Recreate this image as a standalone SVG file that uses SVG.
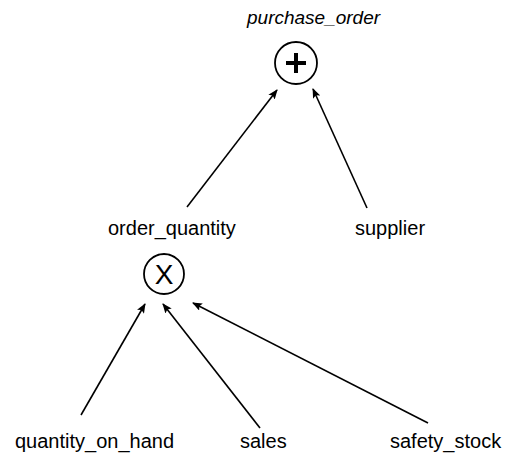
<svg xmlns="http://www.w3.org/2000/svg" width="518" height="454" viewBox="0 0 518 454">
<style>
text{font-family:"Liberation Sans",Arial,sans-serif;font-size:20px;fill:#000}
.t{font-style:italic;font-size:19px}
.c{fill:none;stroke:#000;stroke-width:1.8}
.e{stroke:#000;stroke-width:1.6;fill:none;marker-end:url(#a)}
</style>
<defs>
<marker id="a" viewBox="0 0 10 8" refX="9" refY="4" markerWidth="10" markerHeight="8" markerUnits="userSpaceOnUse" orient="auto">
<path d="M0,0L10,4L0,8L2,4Z" fill="#000"/>
</marker>
</defs>
<rect width="518" height="454" fill="#fff"/>
<g id="connectors">
<line class="e" x1="187" y1="207" x2="277" y2="90"/>
<line class="e" x1="367" y1="208" x2="313" y2="89"/>
<line class="e" x1="81" y1="415" x2="145" y2="304"/>
<line class="e" x1="260" y1="428" x2="163" y2="304"/>
<line class="e" x1="428" y1="423" x2="193" y2="303"/>
</g>
<g id="purchase_order">
<text class="t" x="247" y="24">purchase_order</text>
<circle class="c" cx="296" cy="63" r="21"/>
<path d="M286,63H306M296,53V73" stroke="#000" stroke-width="4" fill="none"/>
</g>
<g id="order_quantity">
<text x="108" y="235">order_quantity</text>
<circle class="c" cx="164" cy="274" r="20"/>
<text x="164" y="284" text-anchor="middle" style="font-size:28px">X</text>
</g>
<g id="supplier"><text x="355" y="235">supplier</text></g>
<g id="quantity_on_hand"><text x="15" y="448">quantity_on_hand</text></g>
<g id="sales"><text x="240" y="448">sales</text></g>
<g id="safety_stock"><text x="390" y="448">safety_stock</text></g>
</svg>
